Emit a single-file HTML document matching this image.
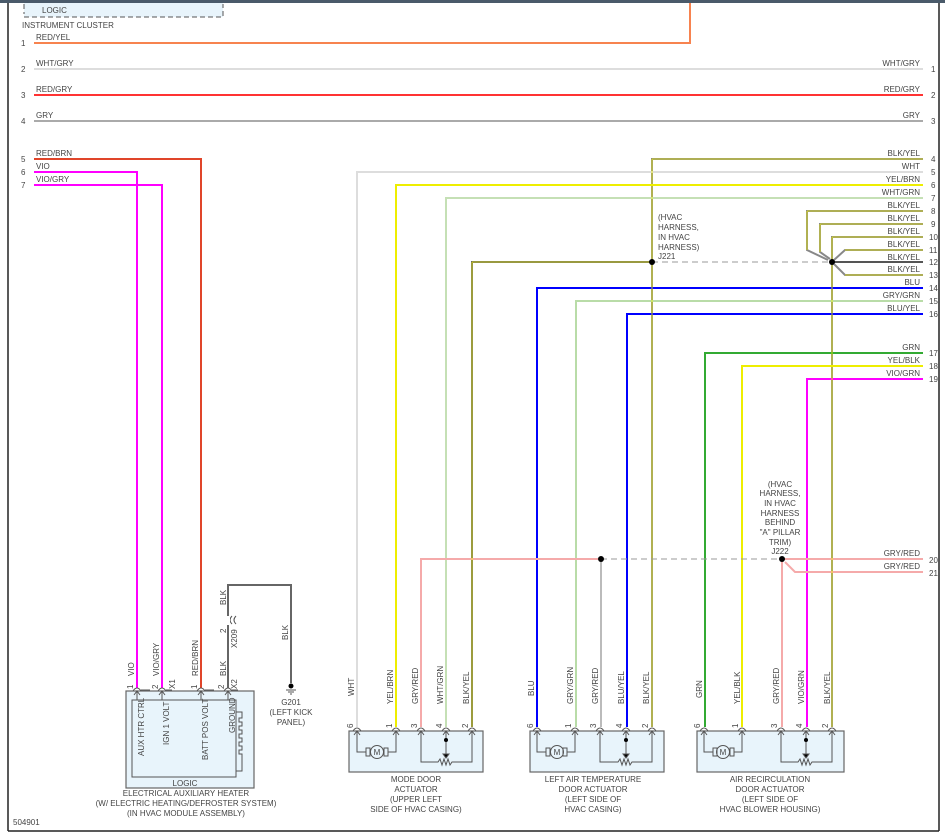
<!DOCTYPE html>
<html><head><meta charset="utf-8"><style>
html,body{margin:0;padding:0;background:#fff}
svg{display:block}
text{font-family:"Liberation Sans",sans-serif;font-size:8px;fill:#444}
.b{fill:#e8f4fb;stroke:#666;stroke-width:1.2}
.l{fill:none;stroke:#555;stroke-width:1}
</style></head><body>
<svg width="945" height="838" viewBox="0 0 945 838" xmlns="http://www.w3.org/2000/svg">
<rect x="0" y="0" width="945" height="838" fill="#fff"/>
<rect x="0" y="0" width="945" height="3" fill="#4a5a6a"/>
<line x1="8" y1="3" x2="8" y2="831" stroke="#222" stroke-width="1.5"/>
<line x1="939" y1="3" x2="939" y2="831" stroke="#222" stroke-width="1.5"/>
<line x1="8" y1="831" x2="939" y2="831" stroke="#222" stroke-width="1.5"/>

<rect x="24" y="3" width="199" height="14" fill="#e8f4fb"/>
<path d="M24 4 V14 M24 17 H223 V4" fill="none" stroke="#555" stroke-dasharray="5,3"/>
<text x="42" y="13">LOGIC</text>
<text x="22" y="28">INSTRUMENT CLUSTER</text>

<g fill="none" stroke-width="2">
<path d="M34 43 H690 V3" stroke="#f7834f"/>
<line x1="34" y1="69" x2="923" y2="69" stroke="#ddd"/>
<line x1="34" y1="95" x2="923" y2="95" stroke="#f33"/>
<line x1="34" y1="121" x2="923" y2="121" stroke="#aaa"/>
<path d="M34 159 H201 V688" stroke="#e0452a"/>
<path d="M34 172 H137 V688" stroke="#f0f"/>
<path d="M34 185 H162 V688" stroke="#f0f"/>
<path d="M923 159 H652 V727" stroke="#888"/>
<path d="M923 172 H357 V727" stroke="#ddd"/>
<path d="M923 185 H396 V727" stroke="#ee0"/>
<path d="M923 198 H446 V727" stroke="#c5e0b5"/>
<path d="M923 211 H807 V250 L828 260" stroke="#888"/>
<path d="M923 224 H820 V252 L830 259" stroke="#888"/>
<path d="M923 237 H832 V727" stroke="#888"/>
<path d="M923 250 H845 L834 260" stroke="#888"/>
<path d="M923 262 H834" stroke="#555"/>
<path d="M923 275 H845 L834 264" stroke="#888"/>
<path d="M650 262 H472 V727" stroke="#666"/>
<path d="M923 288 H537 V727" stroke="#00f"/>
<path d="M923 301 H576 V727" stroke="#b9dca8"/>
<path d="M923 314 H627 V727" stroke="#00f"/>
<path d="M923 353 H705 V727" stroke="#3a3"/>
<path d="M923 366 H742 V727" stroke="#ee0"/>
<path d="M923 379 H807 V727" stroke="#f0f"/>
<path d="M923 559 H784" stroke="#f5aaaa"/>
<path d="M923 572 H795 L785 562" stroke="#f5aaaa"/>
<path d="M782 561 V727" stroke="#f5aaaa"/>
<path d="M598 559 H421 V727" stroke="#f5aaaa"/>
<path d="M601 561 V727" stroke="#bbb"/>
<path d="M228 688 V585 H291 V683" stroke="#666"/>
</g>
<g fill="none" stroke-width="0.8">
<path d="M652 159 V727 M807 211 V250 M820 224 V252 M832 237 V727 M472 262 V727 M652 262 H472" stroke="#ee0"/>
<path d="M923 159 H652 M923 211 H807 M923 224 H820 M923 237 H832 M923 250 H845 M923 275 H845" stroke="#ee0"/>
</g>
<path d="M652 262 H832" stroke="#999" stroke-dasharray="6,4" fill="none"/>
<path d="M601 559 H782" stroke="#999" stroke-dasharray="6,4" fill="none"/>
<circle cx="652" cy="262" r="3" fill="#000"/>
<circle cx="832" cy="262" r="3" fill="#000"/>
<circle cx="601" cy="559" r="3" fill="#000"/>
<circle cx="782" cy="559" r="3" fill="#000"/>

<text x="36" y="40">RED/YEL</text><text x="21" y="46">1</text>
<text x="36" y="66">WHT/GRY</text><text x="21" y="72">2</text>
<text x="36" y="92">RED/GRY</text><text x="21" y="98">3</text>
<text x="36" y="118">GRY</text><text x="21" y="124">4</text>
<text x="36" y="156">RED/BRN</text><text x="21" y="162">5</text>
<text x="36" y="169">VIO</text><text x="21" y="175">6</text>
<text x="36" y="182">VIO/GRY</text><text x="21" y="188">7</text>
<g text-anchor="end">
<text x="920" y="66">WHT/GRY</text><text x="920" y="92">RED/GRY</text><text x="920" y="118">GRY</text>
<text x="920" y="156">BLK/YEL</text><text x="920" y="169">WHT</text><text x="920" y="182">YEL/BRN</text>
<text x="920" y="195">WHT/GRN</text><text x="920" y="208">BLK/YEL</text><text x="920" y="221">BLK/YEL</text>
<text x="920" y="234">BLK/YEL</text><text x="920" y="247">BLK/YEL</text><text x="920" y="260">BLK/YEL</text>
<text x="920" y="272">BLK/YEL</text><text x="920" y="285">BLU</text><text x="920" y="298">GRY/GRN</text>
<text x="920" y="311">BLU/YEL</text><text x="920" y="350">GRN</text><text x="920" y="363">YEL/BLK</text>
<text x="920" y="376">VIO/GRN</text><text x="920" y="556">GRY/RED</text><text x="920" y="569">GRY/RED</text>
</g>
<g>
<text x="931" y="72">1</text><text x="931" y="98">2</text><text x="931" y="124">3</text>
<text x="931" y="162">4</text><text x="931" y="175">5</text><text x="931" y="188">6</text><text x="931" y="201">7</text>
<text x="931" y="214">8</text><text x="931" y="227">9</text><text x="929" y="240">10</text><text x="929" y="253">11</text>
<text x="929" y="265">12</text><text x="929" y="278">13</text><text x="929" y="291">14</text><text x="929" y="304">15</text>
<text x="929" y="317">16</text><text x="929" y="356">17</text><text x="929" y="369">18</text><text x="929" y="382">19</text>
<text x="929" y="563">20</text><text x="929" y="576">21</text>
</g>
<text x="658" y="220">(HVAC</text><text x="658" y="230">HARNESS,</text><text x="658" y="240">IN HVAC</text><text x="658" y="250">HARNESS)</text><text x="658" y="259">J221</text>
<g text-anchor="middle">
<text x="780" y="487">(HVAC</text><text x="780" y="496">HARNESS,</text><text x="780" y="506">IN HVAC</text><text x="780" y="516">HARNESS</text><text x="780" y="525">BEHIND</text><text x="780" y="535">"A" PILLAR</text><text x="780" y="545">TRIM)</text><text x="780" y="554">J222</text>
</g>

<rect class="b" x="126" y="691" width="128" height="97"/>
<rect class="l" x="132" y="700" width="104" height="77"/>
<path class="l" d="M236 712 H242 V718 H239 V722 H242 V726 H239 V730 H242 V734 H239 V738 H242 V742 H239 V746 H242 V750 H239 V754 H242 V771 H236"/>
<g class="l">
<path d="M133 691 q4 -6 8 0 M158 691 q4 -6 8 0 M197 691 q4 -6 8 0 M224 691 q4 -6 8 0"/>
<path d="M137 691 V700 M162 691 V700 M201 691 V700 M228 691 V700"/>
<path d="M134 695 l3 -4 l3 4 M159 695 l3 -4 l3 4 M198 695 l3 -4 l3 4 M225 695 l3 -4 l3 4"/>
<path d="M141 690 H150 M166 690 H172 M205 690 H214 M232 690 H238"/>
</g>
<text x="185" y="786" text-anchor="middle">LOGIC</text>
<g>
<text transform="translate(144,756) rotate(-90)">AUX HTR CTRL</text>
<text transform="translate(169,745) rotate(-90)">IGN 1 VOLT</text>
<text transform="translate(208,760) rotate(-90)">BATT POS VOLT</text>
<text transform="translate(235,733) rotate(-90)">GROUND</text>
<text transform="translate(134,676) rotate(-90)">VIO</text>
<text transform="translate(159,676) rotate(-90)">VIO/GRY</text>
<text transform="translate(198,676) rotate(-90)">RED/BRN</text>
<text transform="translate(226,676) rotate(-90)">BLK</text>
<text transform="translate(133,689) rotate(-90)">1</text>
<text transform="translate(158,689) rotate(-90)">2</text>
<text transform="translate(197,689) rotate(-90)">1</text>
<text transform="translate(224,689) rotate(-90)">2</text>
<text transform="translate(175,689) rotate(-90)">X1</text>
<text transform="translate(237,689) rotate(-90)">X2</text>
<text transform="translate(226,605) rotate(-90)">BLK</text>
<text transform="translate(226,633) rotate(-90)">2</text>
<text transform="translate(237,648) rotate(-90)">X209</text>
<text transform="translate(288,640) rotate(-90)">BLK</text>
</g>
<path class="l" d="M232 616 q-4 4 0 8 M236 616 q-4 4 0 8"/>
<rect x="226" y="616" width="4" height="9" fill="#fff"/>
<circle cx="291" cy="686" r="2.5" fill="#000"/>
<path class="l" d="M286 690 H296 M288 692 H294 M290 694 H292"/>
<g text-anchor="middle">
<text x="291" y="705">G201</text><text x="291" y="715">(LEFT KICK</text><text x="291" y="725">PANEL)</text>
<text x="186" y="796">ELECTRICAL AUXILIARY HEATER</text>
<text x="186" y="806">(W/ ELECTRIC HEATING/DEFROSTER SYSTEM)</text>
<text x="186" y="816">(IN HVAC MODULE ASSEMBLY)</text>
</g>
<text x="13" y="825">504901</text>

<rect class="b" x="349" y="731" width="134" height="41"/>
<g class="l">
<path d="M353 731 q4 -6 8 0 M392 731 q4 -6 8 0 M417 731 q4 -6 8 0 M442 731 q4 -6 8 0 M468 731 q4 -6 8 0"/>
<path d="M354 735 l3 -4 l3 4 M393 735 l3 -4 l3 4 M418 735 l3 -4 l3 4 M443 735 l3 -4 l3 4 M469 735 l3 -4 l3 4"/>
<path d="M357 731 V752 H366 M396 731 V752 H388 M366 748 h4 v8 h-4z M384 748 h4 v8 h-4z"/>
<circle cx="377" cy="752" r="6.5"/>
<path d="M421 731 V762 H438 l2 -3 l2 6 l2 -6 l2 6 l2 -6 l2 6 l2 -3 H472 V731 M446 731 V757"/>
<path d="M443 754 l3 4 l3 -4z" fill="#000"/>
</g>
<circle cx="446" cy="740" r="2" fill="#000"/>
<text x="377" y="755" text-anchor="middle">M</text>
<rect class="b" x="530" y="731" width="134" height="41"/>
<g class="l">
<path d="M533 731 q4 -6 8 0 M571 731 q4 -6 8 0 M596 731 q4 -6 8 0 M622 731 q4 -6 8 0 M648 731 q4 -6 8 0"/>
<path d="M534 735 l3 -4 l3 4 M572 735 l3 -4 l3 4 M597 735 l3 -4 l3 4 M623 735 l3 -4 l3 4 M649 735 l3 -4 l3 4"/>
<path d="M537 731 V752 H546 M575 731 V752 H567 M546 748 h4 v8 h-4z M563 748 h4 v8 h-4z"/>
<circle cx="557" cy="752" r="6.5"/>
<path d="M600 731 V762 H618 l2 -3 l2 6 l2 -6 l2 6 l2 -6 l2 6 l2 -3 H652 V731 M626 731 V757"/>
<path d="M623 754 l3 4 l3 -4z" fill="#000"/>
</g>
<circle cx="626" cy="740" r="2" fill="#000"/>
<text x="557" y="755" text-anchor="middle">M</text>
<rect class="b" x="697" y="731" width="147" height="41"/>
<g class="l">
<path d="M700 731 q4 -6 8 0 M738 731 q4 -6 8 0 M777 731 q4 -6 8 0 M802 731 q4 -6 8 0 M828 731 q4 -6 8 0"/>
<path d="M701 735 l3 -4 l3 4 M739 735 l3 -4 l3 4 M778 735 l3 -4 l3 4 M803 735 l3 -4 l3 4 M829 735 l3 -4 l3 4"/>
<path d="M704 731 V752 H713 M742 731 V752 H734 M713 748 h4 v8 h-4z M730 748 h4 v8 h-4z"/>
<circle cx="723" cy="752" r="6.5"/>
<path d="M781 731 V762 H798 l2 -3 l2 6 l2 -6 l2 6 l2 -6 l2 6 l2 -3 H832 V731 M806 731 V757"/>
<path d="M803 754 l3 4 l3 -4z" fill="#000"/>
</g>
<circle cx="806" cy="740" r="2" fill="#000"/>
<text x="723" y="755" text-anchor="middle">M</text>

<g>
<text transform="translate(354,696) rotate(-90)">WHT</text>
<text transform="translate(393,704) rotate(-90)">YEL/BRN</text>
<text transform="translate(418,704) rotate(-90)">GRY/RED</text>
<text transform="translate(443,704) rotate(-90)">WHT/GRN</text>
<text transform="translate(469,704) rotate(-90)">BLK/YEL</text>
<text transform="translate(534,696) rotate(-90)">BLU</text>
<text transform="translate(573,704) rotate(-90)">GRY/GRN</text>
<text transform="translate(598,704) rotate(-90)">GRY/RED</text>
<text transform="translate(624,704) rotate(-90)">BLU/YEL</text>
<text transform="translate(649,704) rotate(-90)">BLK/YEL</text>
<text transform="translate(702,698) rotate(-90)">GRN</text>
<text transform="translate(740,704) rotate(-90)">YEL/BLK</text>
<text transform="translate(779,704) rotate(-90)">GRY/RED</text>
<text transform="translate(804,704) rotate(-90)">VIO/GRN</text>
<text transform="translate(830,704) rotate(-90)">BLK/YEL</text>
<text transform="translate(353,728) rotate(-90)">6</text><text transform="translate(392,728) rotate(-90)">1</text>
<text transform="translate(417,728) rotate(-90)">3</text><text transform="translate(442,728) rotate(-90)">4</text>
<text transform="translate(468,728) rotate(-90)">2</text>
<text transform="translate(533,728) rotate(-90)">6</text><text transform="translate(571,728) rotate(-90)">1</text>
<text transform="translate(596,728) rotate(-90)">3</text><text transform="translate(622,728) rotate(-90)">4</text>
<text transform="translate(648,728) rotate(-90)">2</text>
<text transform="translate(700,728) rotate(-90)">6</text><text transform="translate(738,728) rotate(-90)">1</text>
<text transform="translate(777,728) rotate(-90)">3</text><text transform="translate(802,728) rotate(-90)">4</text>
<text transform="translate(828,728) rotate(-90)">2</text>
</g>
<g text-anchor="middle">
<text x="416" y="782">MODE DOOR</text><text x="416" y="792">ACTUATOR</text><text x="416" y="802">(UPPER LEFT</text><text x="416" y="812">SIDE OF HVAC CASING)</text>
<text x="593" y="782">LEFT AIR TEMPERATURE</text><text x="593" y="792">DOOR ACTUATOR</text><text x="593" y="802">(LEFT SIDE OF</text><text x="593" y="812">HVAC CASING)</text>
<text x="770" y="782">AIR RECIRCULATION</text><text x="770" y="792">DOOR ACTUATOR</text><text x="770" y="802">(LEFT SIDE OF</text><text x="770" y="812">HVAC BLOWER HOUSING)</text>
</g>
</svg>
</body></html>
